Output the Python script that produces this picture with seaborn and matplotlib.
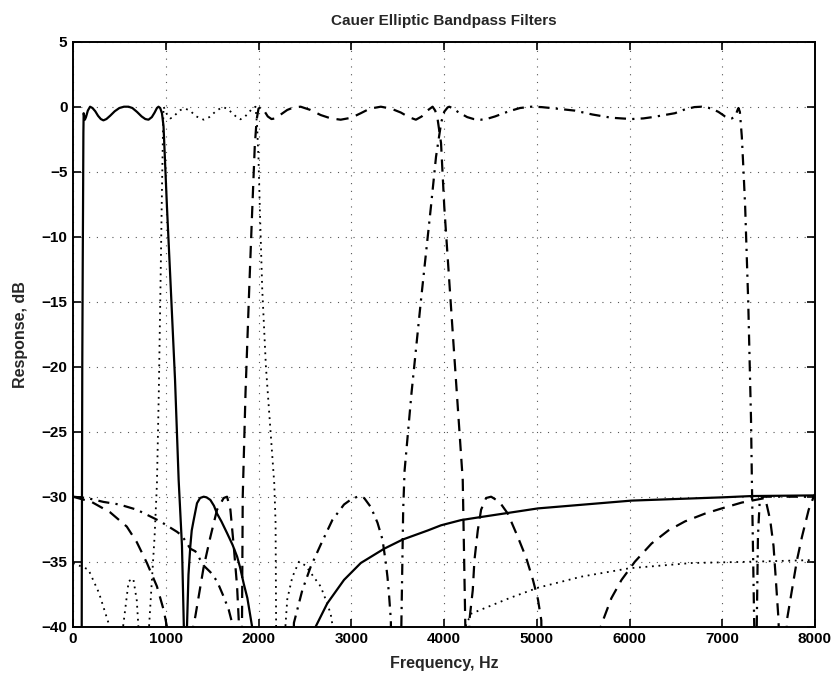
import numpy as np
import pandas as pd
import matplotlib
matplotlib.use("Agg")
import matplotlib.pyplot as plt
import seaborn as sns

# ---- data (frequency in Hz, response in dB) ----
# values below -40 dB are clipped by the axis limits (zeros of the filters)
f1_hz = [90, 95, 100, 105, 108, 112, 115, 120, 128, 140, 160, 184, 210, 240, 270, 300, 328,
         360, 400, 450, 500, 550, 598, 640, 690, 740, 780, 814, 850, 880, 905, 922, 940,
         959, 976, 1013, 1050, 1100, 1139, 1175, 1195, 1205,
         1215, 1229, 1245, 1265, 1280, 1301, 1337, 1370, 1409, 1440, 1481, 1520, 1553, 1600,
         1661, 1720, 1769, 1800, 1841, 1880, 1931, 1950,
         2590, 2616, 2742, 2922, 3103, 3355, 3553, 3824, 3968, 4184, 4364, 5013, 6022,
         7000, 7319, 8000]
f1_db = [-60, -35, -20, -12, -8, -2, -0.5, -0.7, -1.0, -0.8, -0.3, 0.0, -0.1, -0.35, -0.7,
         -0.95, -1.05, -0.95, -0.7, -0.35, -0.1, 0.0, 0.0, -0.1, -0.4, -0.75, -0.95, -1.0,
         -0.8, -0.45, -0.1, 0.0, -0.1, -0.5, -1.5, -7.7, -13.3, -21.0, -28.7, -33.8, -40.0, -60,
         -60, -40.0, -36.0, -33.8, -32.6, -31.8, -30.5, -30.1, -30.0, -30.05, -30.25, -30.7,
         -31.3, -31.9, -32.8, -33.7, -34.6, -35.4, -36.7, -37.8, -40.0, -60,
         -60, -40.0, -38.2, -36.4, -35.1, -34.0, -33.3, -32.6, -32.2, -31.8, -31.6, -30.9,
         -30.3, -30.05, -29.95, -29.9]

f2_hz = [0, 166, 280, 382, 420, 500, 540, 600, 650, 688, 705, 720, 790, 820, 850, 880, 905,
         925, 945, 960, 970, 976, 990, 1020, 1049, 1080, 1120, 1160, 1211, 1260, 1330, 1409,
         1470, 1540, 1600, 1625, 1660, 1720, 1770, 1805, 1850, 1900, 1940, 1968, 1985, 2000,
         2015, 2040, 2080, 2130, 2170, 2184, 2190, 2200,
         2280, 2290, 2310, 2364, 2436, 2508, 2598, 2670, 2724, 2778, 2800, 2820,
         4200, 4230, 4292, 4706, 5013, 5481, 6003, 6670, 7319, 8000]
f2_db = [-35.1, -35.6, -37.4, -39.7, -50, -50, -40, -36.5, -36.3, -38.0, -40, -50, -50, -40,
         -36.5, -33.0, -29.0, -22.0, -13.0, -6.0, -2.0, 0.0, -0.2, -0.7, -0.9, -0.8, -0.5,
         -0.25, -0.15, -0.3, -0.75, -1.0, -0.8, -0.35, -0.07, -0.05, -0.15, -0.5, -0.85,
         -0.97, -0.8, -0.4, -0.1, 0.0, -1.5, -4.0, -8.0, -14.0, -20.0, -25.0, -29.0, -32.0,
         -40.0, -50,
         -50, -40.0, -37.9, -36.2, -35.0, -35.3, -36.2, -36.9, -37.9, -39.0, -40.0, -50,
         -50, -40.0, -39.0, -37.8, -37.0, -36.15, -35.5, -35.1, -35.0, -34.87]

f3_hz = [0, 200, 400, 580, 688, 797, 905, 977, 1013, 1040, 1280, 1297, 1319, 1409, 1481,
         1553, 1625, 1661, 1697, 1733, 1769, 1787, 1800, 1812, 1822, 1830, 1860, 1900,
         1932, 1960, 1980, 2000, 2030, 2060, 2100, 2140, 2180, 2250, 2310, 2380, 2454,
         2560, 2670, 2780, 2886, 3000, 3103, 3200, 3319, 3430, 3535, 3620, 3697, 3760,
         3820, 3877, 3905, 3932, 3968, 4003, 4100, 4202, 4230,
         4250, 4262, 4274, 4310, 4328, 4364, 4400, 4454, 4508, 4598, 4688, 4796, 4886,
         4959, 5013, 5049, 5070, 5660, 5690, 5715, 5805, 5914, 6058, 6238, 6418, 6598,
         6814, 6995, 7211, 7391, 7463, 7517, 7553, 7578, 7607, 7640, 7670, 7697, 7751,
         7805, 7859, 7932, 7986, 8000]
f3_db = [-30.0, -30.4, -31.2, -32.3, -33.5, -35.1, -36.9, -38.7, -40.0, -50, -50, -40.0,
         -39.2, -35.4, -33.1, -31.0, -30.1, -30.0, -31.0, -33.8, -36.9, -39.5, -50, -50,
         -40.0, -30.0, -22.0, -14.0, -8.0, -3.0, -1.0, -0.15, 0.0, -0.3, -0.75, -0.95, -0.9,
         -0.55, -0.25, -0.05, 0.0, -0.25, -0.64, -0.9, -1.0, -0.85, -0.5, -0.15, 0.0, -0.15,
         -0.45, -0.8, -1.0, -0.75, -0.3, 0.0, -0.3, -1.0, -2.8, -7.7, -18.0, -28.7, -40.0,
         -50, -50, -39.5, -37.2, -34.9, -32.6, -31.0, -30.1, -30.0,
         -30.4, -31.3, -33.1, -34.7, -36.4, -37.9, -39.5, -50, -50, -40.0, -39.5, -37.8,
         -36.4, -35.0, -33.6, -32.6, -31.9, -31.3, -30.9, -30.45, -30.2, -30.1, -31.8,
         -33.8, -36.4, -39.5, -50, -50, -39.5, -37.2, -34.9, -33.1, -31.0, -30.0, -29.8]

f4_hz = [0, 150, 328, 500, 688, 941, 1121, 1175, 1265, 1319, 1409, 1481, 1553, 1625, 1679,
         1715, 1740, 2350, 2382, 2472, 2562, 2670, 2796, 2922, 3000, 3067, 3139, 3211, 3283,
         3337, 3373, 3391, 3409, 3427, 3440, 3520, 3540, 3560, 3575, 3650, 3750, 3859,
         3914, 3970, 4003, 4040, 4058, 4100, 4150, 4250, 4320, 4400, 4480, 4550, 4700,
         4820, 4941, 5050, 5150, 5409, 5600, 5805, 6022, 6150, 6250, 6490, 6600, 6700,
         6778, 6850, 6900, 6959, 7000, 7030, 7070, 7103, 7130, 7150, 7165, 7175,
         7190, 7211, 7229, 7247, 7280, 7310, 7320, 7345, 7360, 7372, 7385, 7405, 7450,
         7600, 8000]
f4_db = [-30.0, -30.1, -30.4, -30.6, -31.0, -31.9, -32.7, -33.0, -34.0, -34.2, -35.3, -35.8,
         -36.5, -37.7, -38.7, -39.7, -50, -50, -39.7, -37.2, -35.4, -33.7, -31.8, -30.6,
         -30.2, -30.0, -30.1, -30.8, -32.0, -33.3, -35.1, -36.2, -37.7, -39.5, -50, -50,
         -40.0, -31.0, -28.0, -22.0, -15.0, -7.7, -3.85, -1.2, -0.38, -0.05, 0.0, -0.15,
         -0.4, -0.8, -0.95, -1.0, -0.9, -0.75, -0.35, -0.1, 0.0, -0.03, -0.1, -0.3, -0.6,
         -0.85, -0.95, -0.9, -0.8, -0.5, -0.2, -0.03, 0.0, -0.08, -0.2, -0.4, -0.6, -0.75,
         -0.87, -0.9, -0.8, -0.55, -0.25, -0.1,
         -0.4, -2.3, -4.9, -7.7, -15.0, -24.0, -29.0, -40.0, -50, -40.0, -33.0, -30.2,
         -30.0, -30.0, -30.0]

filters = ["Band 1", "Band 2", "Band 3", "Band 4"]
title = "Cauer Elliptic Bandpass Filters"
xlabel = "Frequency, Hz"
ylabel = "Response, dB"
xticks = [0, 1000, 2000, 3000, 4000, 5000, 6000, 7000, 8000]
yticks = [5, 0, -5, -10, -15, -20, -25, -30, -35, -40]

frames = []
for name, hz, db in zip(filters, [f1_hz, f2_hz, f3_hz, f4_hz], [f1_db, f2_db, f3_db, f4_db]):
    frames.append(pd.DataFrame({"freq": hz, "db": db, "filter": name}))
df = pd.concat(frames, ignore_index=True)

sns.set_theme(style="white")
plt.rcParams["font.family"] = ["Liberation Sans", "DejaVu Sans"]

fig = plt.figure(figsize=(8.36, 6.77), dpi=100)
ax = fig.add_axes([73 / 836, 1 - 626.7 / 677, (815 - 73) / 836, (626.7 - 41.7) / 677])

dash_map = {"Band 1": "", "Band 2": (1, 2.6), "Band 3": (5.5, 3.5), "Band 4": (5, 2.8, 1, 2.8)}
sns.lineplot(data=df, x="freq", y="db", style="filter", style_order=filters,
             units="filter", estimator=None, sort=False, dashes=dash_map,
             color="black", linewidth=1.6, legend=False, ax=ax)
for line, name in zip(ax.lines, filters):
    if name == "Band 2":
        line.set_linewidth(1.3)

ax.set_xlim(0, 8000)
ax.set_ylim(-40, 5)
ax.set_xticks(xticks)
ax.set_yticks(yticks)
ax.set_xticklabels([str(t) for t in xticks], fontsize=11, fontweight="bold")
ax.set_yticklabels([str(t).replace("-", "\u2212") for t in yticks], fontsize=11, fontweight="bold")
ax.tick_params(direction="in", length=6, width=1.2, top=True, right=True,
               bottom=True, left=True, pad=4, colors="black")
ax.grid(True, color="#555555", linestyle=(0, (1, 6)), linewidth=0.8)
for s in ax.spines.values():
    s.set_visible(True)
    s.set_color("black")
    s.set_linewidth(1.4)

ax.set_title(title, fontsize=11, fontweight="bold", pad=12)
ax.set_xlabel(xlabel, fontsize=11.5, fontweight="bold", labelpad=7)
ax.set_ylabel(ylabel, fontsize=11.5, fontweight="bold", labelpad=10)

fig.savefig("out.png", dpi=100, facecolor="white")
